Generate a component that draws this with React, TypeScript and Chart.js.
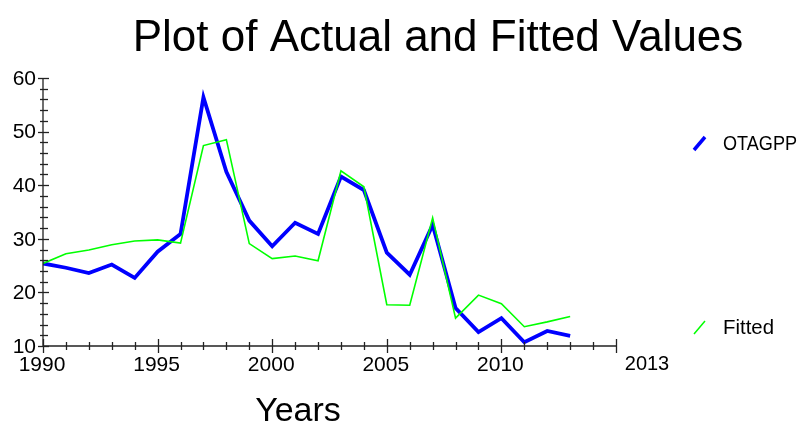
import React, { useEffect, useRef } from "react";
import { Chart, registerables } from "chart.js";

Chart.register(...registerables);

const years = [1990, 1991, 1992, 1993, 1994, 1995, 1996, 1997, 1998, 1999, 2000, 2001, 2002, 2003, 2004, 2005, 2006, 2007, 2008, 2009, 2010, 2011, 2012, 2013];
const actual = [25.4, 24.6, 23.6, 25.2, 22.7, 27.6, 30.9, 56.4, 42.5, 33.4, 28.6, 33.0, 30.9, 41.6, 39.1, 27.4, 23.3, 32.6, 17.1, 12.6, 15.2, 10.7, 12.8, 11.9];
const fitted = [25.4, 27.2, 27.9, 28.9, 29.6, 29.8, 29.2, 47.4, 48.5, 29.1, 26.3, 26.8, 25.9, 42.7, 39.7, 17.7, 17.6, 33.9, 15.2, 19.5, 17.9, 13.6, 14.5, 15.5];
const yMajorTicks = [10, 20, 30, 40, 50, 60];
const xMajorTicks = [1990, 1995, 2000, 2005, 2010];
const xEndLabel = "2013";
const seriesNames = ["OTAGPP", "Fitted"];
const titleText = "Plot of Actual and Fitted Values";
const xTitle = "Years";

const FONT = "Arial, 'Liberation Sans', sans-serif";

const axesPlugin = {
  id: "customAxes",
  afterDraw(chart: any) {
    const ctx = chart.ctx as CanvasRenderingContext2D;
    const xs = chart.scales.x;
    const ys = chart.scales.y;
    const area = chart.chartArea;
    ctx.save();
    ctx.strokeStyle = "#222";
    ctx.fillStyle = "#000";
    ctx.lineWidth = 1.3;
    // axis lines
    ctx.beginPath();
    ctx.moveTo(area.left, area.top);
    ctx.lineTo(area.left, area.bottom);
    ctx.lineTo(area.right, area.bottom);
    ctx.stroke();
    // y ticks
    for (let v = ys.min; v <= ys.max + 0.001; v += 2) {
      const py = Math.round(ys.getPixelForValue(v)) + 0.5;
      const major = Math.abs(v % 10) < 0.001;
      ctx.beginPath();
      ctx.moveTo(area.left - (major ? 5 : 3), py);
      ctx.lineTo(area.left + (major ? 6 : 5), py);
      ctx.stroke();
    }
    // x ticks
    for (let v = xs.min; v <= xs.max + 0.001; v += 1) {
      const px = Math.round(xs.getPixelForValue(v)) + 0.5;
      const major = v % 5 === 0;
      ctx.beginPath();
      ctx.moveTo(px, area.bottom - (major ? 7 : 4));
      ctx.lineTo(px, area.bottom + (major ? 7 : 4));
      ctx.stroke();
    }
    // y labels
    ctx.font = `21px ${FONT}`;
    ctx.textAlign = "right";
    ctx.textBaseline = "middle";
    yMajorTicks.forEach((v) => {
      ctx.fillText(String(v), area.left - 7, ys.getPixelForValue(v) + 1);
    });
    // x labels
    ctx.font = `21px ${FONT}`;
    ctx.textAlign = "center";
    ctx.textBaseline = "middle";
    xMajorTicks.forEach((v) => {
      ctx.fillText(String(v), xs.getPixelForValue(v) - 1, area.bottom + 19);
    });
    ctx.font = `20px ${FONT}`;
    ctx.fillText(xEndLabel, area.right + 31, area.bottom + 18);
    // title
    ctx.font = `44px ${FONT}`;
    ctx.textAlign = "center";
    ctx.textBaseline = "alphabetic";
    ctx.fillText(titleText, 438, 51);
    // x title
    ctx.font = `34px ${FONT}`;
    ctx.textAlign = "center";
    ctx.fillText(xTitle, 298, 421);
    // legend
    const legendY = [143, 327];
    const colors = ["#0000ff", "#00ff00"];
    const widths = [3.5, 1.5];
    seriesNames.forEach((name, i) => {
      const cy = legendY[i];
      ctx.strokeStyle = colors[i];
      ctx.lineWidth = widths[i];
      ctx.beginPath();
      ctx.moveTo(694, cy + 7);
      ctx.lineTo(705, cy - 6);
      ctx.stroke();
      ctx.fillStyle = "#000";
      ctx.font = `21px ${FONT}`;
      ctx.textAlign = "left";
      ctx.textBaseline = "middle";
      const w = ctx.measureText(name).width;
      const target = i === 0 ? 74 : 51;
      ctx.save();
      ctx.translate(723, cy + 1);
      ctx.scale(target / w, 1);
      ctx.fillText(name, 0, 0);
      ctx.restore();
    });
    ctx.restore();
  },
};

export default function App() {
  const ref = useRef<HTMLCanvasElement>(null);
  useEffect(() => {
    if (!ref.current) return;
    const chart = new Chart(ref.current, {
      type: "line",
      data: {
        datasets: [
          {
            label: seriesNames[1],
            data: years.map((y, i) => ({ x: y, y: fitted[i] })),
            borderColor: "#00ff00",
            borderWidth: 1.6,
            pointRadius: 0,
            tension: 0,
            borderJoinStyle: "miter",
          },
          {
            label: seriesNames[0],
            data: years.map((y, i) => ({ x: y, y: actual[i] })),
            borderColor: "#0000ff",
            borderWidth: 3.8,
            pointRadius: 0,
            tension: 0,
            borderJoinStyle: "miter",
          },
        ],
      },
      options: {
        animation: false,
        responsive: false,
        devicePixelRatio: 1,
        layout: { padding: { left: 43, right: 190, top: 78, bottom: 77 } },
        plugins: { legend: { display: false }, title: { display: false }, tooltip: { enabled: false } },
        scales: {
          x: { type: "linear", min: 1990, max: 2015, display: false },
          y: { type: "linear", min: 10, max: 60, display: false },
        },
      },
      plugins: [axesPlugin],
    } as any);
    return () => chart.destroy();
  }, []);
  return (
    <div style={{ position: "absolute", left: 0, top: 0, width: 806, height: 423, background: "#fff" }}>
      <canvas ref={ref} width={806} height={423} style={{ display: "block" }} />
    </div>
  );
}
